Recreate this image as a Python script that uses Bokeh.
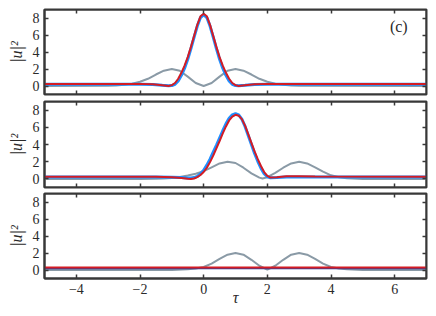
from bokeh.plotting import figure
from bokeh.layouts import column
from bokeh.models import FixedTicker, LinearAxis, Label, Range1d
from bokeh.embed import file_html
from bokeh.resources import INLINE

# ---- data ----
x_ticks = [-4, -2, 0, 2, 4, 6]
y_ticks = [0, 2, 4, 6, 8]
x_lo, x_hi = -5, 7
y_lo, y_hi = -1, 9

# panel 1 (top)
tau_g1 = [-5, -3, -2.75, -2.5, -2.25, -2, -1.75, -1.5, -1.25, -1, -0.75, -0.5, -0.25, 0,
          0.25, 0.5, 0.75, 1, 1.25, 1.5, 1.75, 2, 2.25, 2.5, 2.75, 3, 7]
g1 = [0.0, 0.03, 0.07, 0.15, 0.28, 0.5, 0.85, 1.35, 1.8, 2.0, 1.8, 1.1, 0.35, 0.0,
      0.35, 1.1, 1.8, 2.0, 1.8, 1.35, 0.85, 0.5, 0.28, 0.15, 0.07, 0.03, 0.0]
tau_1 = [-5, -2, -1.6, -1.3, -1.1, -1.0, -0.9, -0.8, -0.7, -0.6, -0.5, -0.4, -0.3, -0.2, -0.1, 0,
         0.1, 0.2, 0.3, 0.4, 0.5, 0.6, 0.7, 0.8, 0.9, 1.0, 1.1, 1.3, 1.6, 2, 7]
r1 = [0.25, 0.25, 0.2, 0.08, 0.0, 0.1, 0.35, 0.85, 1.55, 2.4, 3.4, 4.6, 5.9, 7.2, 8.2, 8.5,
      8.2, 7.2, 5.9, 4.6, 3.4, 2.4, 1.55, 0.85, 0.35, 0.1, 0.0, 0.08, 0.2, 0.25, 0.25]
b1 = [0.2, 0.2, 0.17, 0.08, 0.03, 0.05, 0.2, 0.6, 1.25, 2.1, 3.15, 4.4, 5.75, 7.05, 8.05, 8.4,
      8.05, 7.05, 5.75, 4.4, 3.15, 2.1, 1.25, 0.6, 0.2, 0.05, 0.03, 0.08, 0.17, 0.2, 0.2]

# panel 2 (middle)
tau_g2 = [-5, -2, -1.5, -1.25, -1, -0.75, -0.5, -0.25, 0, 0.25, 0.5, 0.75, 1.0, 1.25, 1.5,
          1.75, 1.85, 2.0, 2.25, 2.5, 2.75, 3.0, 3.25, 3.5, 3.75, 4.0, 4.25, 4.5, 5, 7]
g2 = [0.0, 0.0, 0.02, 0.05, 0.1, 0.22, 0.4, 0.6, 0.9, 1.35, 1.8, 2.0, 1.85, 1.3, 0.65,
      0.15, 0.05, 0.2, 0.7, 1.3, 1.8, 2.0, 1.8, 1.35, 0.85, 0.42, 0.2, 0.08, 0.0, 0.0]
tau_2 = [-5, -1.5, -1.0, -0.7, -0.5, -0.4, -0.3, -0.2, -0.1, 0, 0.1, 0.2, 0.3, 0.4, 0.5,
         0.6, 0.7, 0.8, 0.9, 1.0, 1.1, 1.2, 1.3, 1.4, 1.5, 1.6, 1.7, 1.8, 1.9, 2.0,
         2.1, 2.3, 2.6, 3.0, 3.5, 7]
r2 = [0.25, 0.25, 0.2, 0.1, 0.02, 0.0, 0.05, 0.2, 0.45, 0.8, 1.3, 1.95, 2.7, 3.55, 4.4,
      5.3, 6.1, 6.8, 7.25, 7.45, 7.35, 6.95, 6.2, 5.2, 4.2, 3.2, 2.3, 1.5, 0.8, 0.35,
      0.15, 0.2, 0.32, 0.3, 0.27, 0.25]
b2 = [0.22, 0.22, 0.2, 0.15, 0.1, 0.1, 0.15, 0.3, 0.6, 1.0, 1.6, 2.3, 3.1, 3.9, 4.75,
      5.6, 6.4, 7.05, 7.45, 7.6, 7.45, 6.95, 6.1, 5.05, 4.0, 2.95, 2.05, 1.25, 0.6, 0.25,
      0.12, 0.15, 0.22, 0.22, 0.22, 0.22]

# panel 3 (bottom)
tau_g3 = [-5, -1, -0.5, -0.25, 0, 0.25, 0.5, 0.75, 1.0, 1.25, 1.5, 1.75, 2.0, 2.25, 2.5,
          2.75, 3.0, 3.25, 3.5, 3.75, 4.0, 4.25, 4.5, 5, 7]
g3 = [0.0, 0.0, 0.08, 0.18, 0.35, 0.75, 1.3, 1.8, 2.0, 1.8, 1.2, 0.5, 0.05, 0.5, 1.2,
      1.8, 2.0, 1.8, 1.3, 0.75, 0.35, 0.18, 0.08, 0.0, 0.0]
tau_3 = [-5, -2, 0, 2, 4, 7]
r3 = [0.28, 0.28, 0.28, 0.28, 0.28, 0.28]
b3 = [0.17, 0.17, 0.17, 0.17, 0.17, 0.17]

panel_label = "(c)"

# ---- styling ----
FONT = "Liberation Serif"
AX = "#383838"
TXT = "#2a2a2a"
GRAY = "#8a9aa6"
BLUE = "#1f8fff"
BLUE_DARK = "#2b3f9e"
RED = "#d41c24"
W = 428


def base_axis(ax):
    ax.major_tick_in = 4
    ax.major_tick_out = 0
    ax.minor_tick_in = 0
    ax.minor_tick_out = 0
    ax.minor_tick_line_color = None
    ax.major_tick_line_color = AX
    ax.major_tick_line_width = 1.5
    ax.axis_line_color = AX
    ax.axis_line_width = 2
    ax.major_label_text_font = FONT
    ax.major_label_text_font_size = "14px"
    ax.major_label_text_color = TXT


def hidden_axis(ax):
    base_axis(ax)
    ax.major_label_text_color = None
    ax.major_label_standoff = 0


def make_fig(height, top, bottom, show_x_labels):
    p = figure(width=W, height=height, x_range=Range1d(x_lo, x_hi), y_range=Range1d(y_lo, y_hi),
               output_backend="svg", toolbar_location=None,
               x_axis_location=None, y_axis_location=None,
               min_border_left=44, min_border_right=2,
               min_border_top=top, min_border_bottom=bottom)
    p.grid.grid_line_color = None
    p.outline_line_color = AX
    p.outline_line_width = 2
    p.background_fill_color = "white"
    p.border_fill_color = "white"

    left = LinearAxis(ticker=FixedTicker(ticks=y_ticks))
    base_axis(left)
    left.major_label_standoff = 5
    left.axis_label = "|u|²"
    left.axis_label_text_font = FONT
    left.axis_label_text_font_style = "italic"
    left.axis_label_text_font_size = "16px"
    left.axis_label_text_color = TXT
    left.axis_label_standoff = 5
    p.add_layout(left, "left")

    right = LinearAxis(ticker=FixedTicker(ticks=y_ticks), fixed_location=x_hi)
    hidden_axis(right)
    p.add_layout(right, "right")

    topax = LinearAxis(ticker=FixedTicker(ticks=x_ticks), fixed_location=y_hi)
    hidden_axis(topax)
    p.add_layout(topax, "above")

    if show_x_labels:
        below = LinearAxis(ticker=FixedTicker(ticks=x_ticks))
        base_axis(below)
        below.major_label_standoff = 5
        below.axis_label = "τ"
        below.axis_label_text_font = FONT
        below.axis_label_text_font_style = "italic"
        below.axis_label_text_font_size = "16px"
        below.axis_label_text_color = TXT
        below.axis_label_standoff = -8
    else:
        below = LinearAxis(ticker=FixedTicker(ticks=x_ticks), fixed_location=y_lo)
        hidden_axis(below)
    p.add_layout(below, "below")
    return p


p1 = make_fig(97, 9, 3, False)
p1.line(tau_g1, g1, line_color=GRAY, line_width=2)
p1.line(tau_1, b1, line_color=BLUE, line_width=3)
p1.line(tau_1, r1, line_color=RED, line_width=2)
p1.add_layout(Label(x=5.85, y=7.0, text=panel_label, text_font=FONT, text_font_size="16px",
                    text_baseline="middle", text_color=TXT))

p2 = make_fig(93, 4, 3, False)
p2.line(tau_g2, g2, line_color=GRAY, line_width=2)
p2.line(tau_2, b2, line_color=BLUE, line_width=3)
p2.line(tau_2, r2, line_color=RED, line_width=2)

p3 = make_fig(118, 3, 30, True)
p3.line(tau_g3, g3, line_color=GRAY, line_width=2)
p3.line(tau_3, b3, line_color=BLUE_DARK, line_width=1.5)
p3.line(tau_3, r3, line_color=RED, line_width=2)

layout = column(p1, p2, p3, spacing=0)

open("out.html", "w").write(file_html(layout, INLINE))
